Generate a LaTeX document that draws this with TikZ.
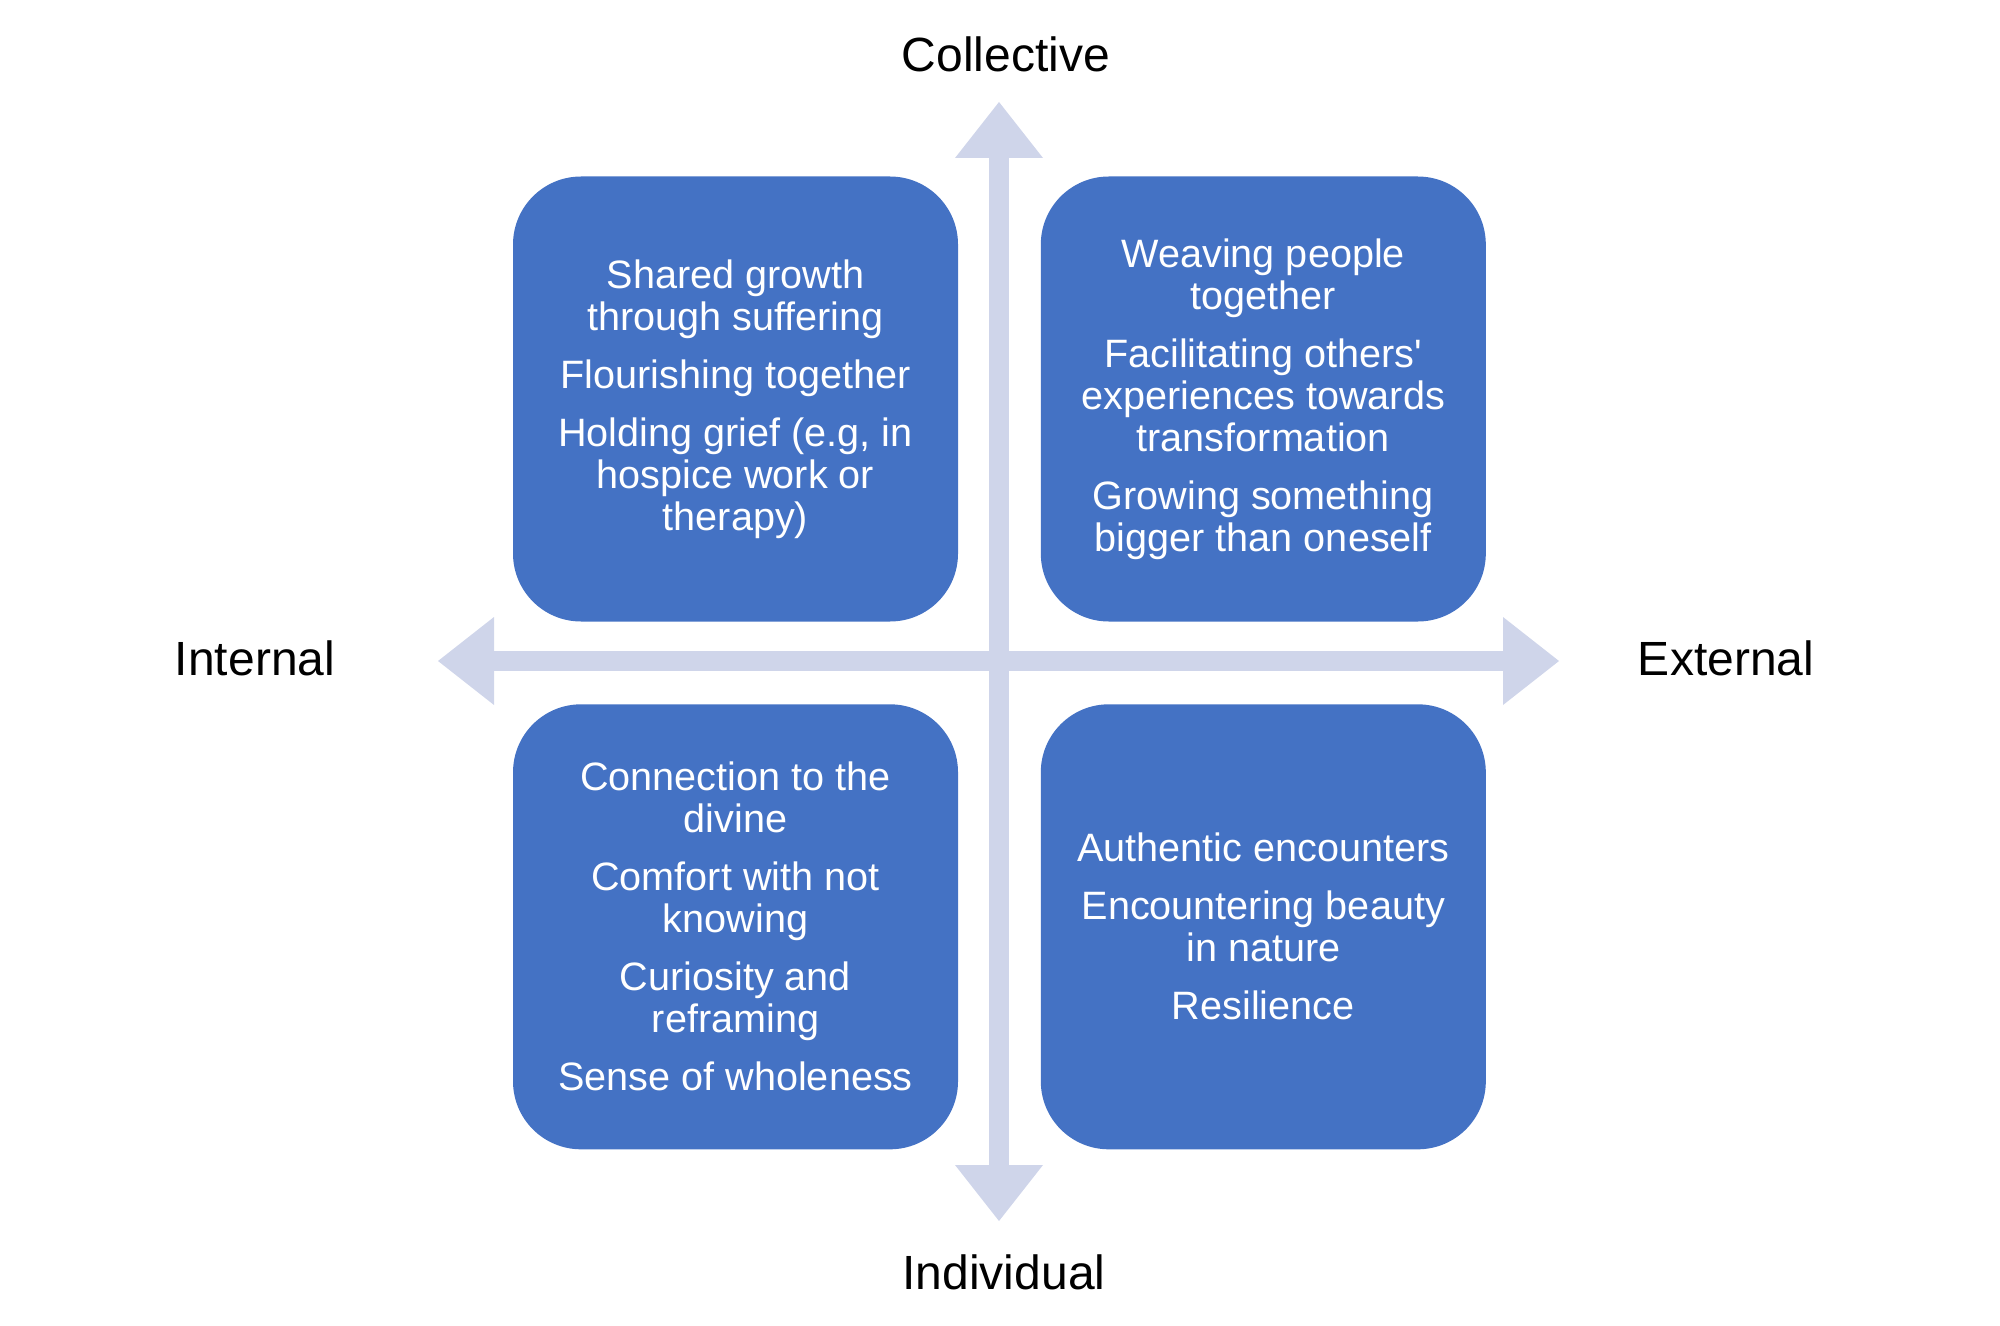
\documentclass[tikz,border=0pt]{standalone}
\usepackage{fontspec}
\setmainfont{Liberation Sans}
\usepackage{tikz}
\usetikzlibrary{arrows.meta,positioning}
\definecolor{quadblue}{HTML}{4472C4}
\definecolor{axislilac}{HTML}{CFD5EA}
\tikzset{>={Triangle[width=44pt,length=28pt,line width=0pt]},
  quad/.style={fill=quadblue,rounded corners=34pt,minimum width=222.5pt,
    minimum height=222.5pt,inner sep=0pt,align=center,text=white,
    font=\fontsize{19.8}{21}\selectfont},
  axis/.style={<->,draw=axislilac,line width=10pt},
  pole/.style={font=\fontsize{24}{26}\selectfont,text=black}}

\begin{document}
\begin{tikzpicture}[x=0.5pt,y=-0.5pt]
  \useasboundingbox (0,0) rectangle (2000,1326);
  % quadrants
  \node[quad] (tl) at (735.5,399) {Shared growth\\through suffering\\[8pt]Flourishing together\\[8pt]Holding grief (e.g, in\\hospice work or\\therapy)};
  \node[quad,right=41pt of tl] (tr) {Weaving people\\together\\[8pt]Facilitating others\textquotesingle\\experiences towards\\transformation\\[8pt]Growing something\\bigger than oneself};
  \node[quad,below=41pt of tl] (bl) {Connection to the\\divine\\[8pt]Comfort with not\\knowing\\[8pt]Curiosity and\\reframing\\[8pt]Sense of wholeness};
  \node[quad,below=41pt of tr] (br) {Authentic encounters\\[8pt]Encountering beauty\\in nature\\[8pt]Resilience};
  % axes
  \coordinate (top) at (999,102);
  \coordinate (bottom) at (999,1221);
  \coordinate (left) at (438,661);
  \coordinate (right) at (1559,661);
  \draw[axis] (bottom) -- (top);
  \draw[axis] (left) -- (right);
  % axis labels
  \node[pole] (coll) at (1006,54) {Collective};
  \node[pole] (indiv) at (1004,1272) {Individual};
  \node[pole] (intl) at (255,658) {Internal};
  \node[pole] (extl) at (1726,658) {External};
\end{tikzpicture}
\end{document}
